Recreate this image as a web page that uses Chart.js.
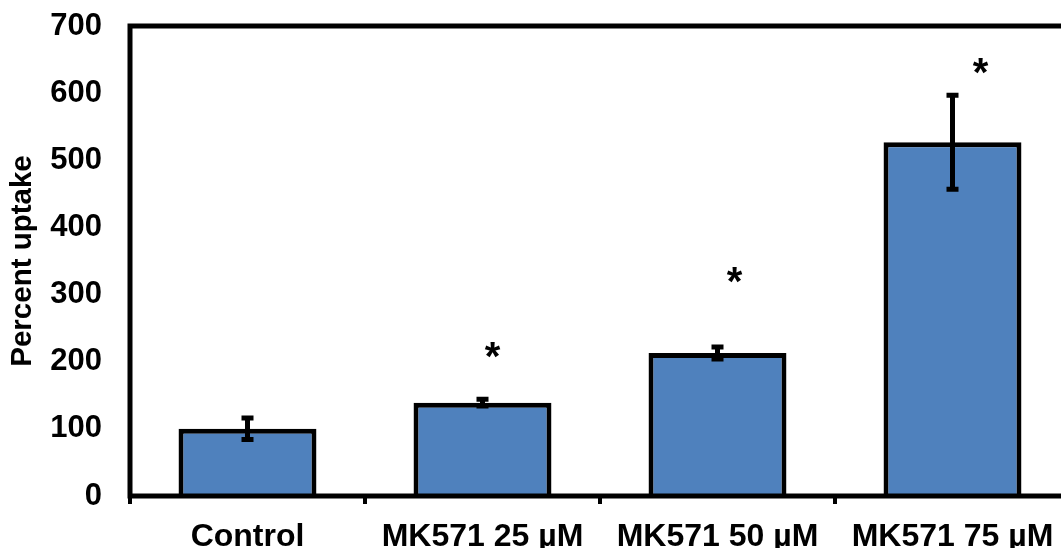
<!DOCTYPE html>
<html>
<head>
<meta charset="utf-8">
<script src="https://cdn.jsdelivr.net/npm/chart.js@4.4.1/dist/chart.umd.min.js"></script>
<style>
  html, body { margin: 0; padding: 0; background: #fff; overflow: hidden; }
  #wrap { width: 1061px; height: 548px; overflow: hidden; }
  #chart { display: block; }
</style>
</head>
<body>
<div id="wrap"><canvas id="chart" width="1075" height="548"></canvas></div>
<script>
const categories = ["Control", "MK571 25 \u00b5M", "MK571 50 \u00b5M", "MK571 75 \u00b5M"];
const uptake = [100, 139, 213, 527];
const uptakeError = [16, 5, 9, 70];
// asterisk height (data units) and sideways nudge (fraction of a category)
const starLevel = [null, 222, 334, 645];
const starNudge = [0, 0.043, 0.072, 0.119];
const yTicks = [0, 100, 200, 300, 400, 500, 600, 700];

const FONT = "'Liberation Sans', Arial, sans-serif";

// error bars + asterisks
const extras = {
  id: "extras",
  afterDatasetsDraw(chart) {
    const { ctx, scales: { x, y } } = chart;
    ctx.save();
    ctx.strokeStyle = "#000";
    ctx.lineWidth = 5;
    ctx.lineCap = "butt";
    uptake.forEach((v, i) => {
      const cx = x.getPixelForValue(i);
      const top = y.getPixelForValue(v + uptakeError[i]);
      const bot = y.getPixelForValue(v - uptakeError[i]);
      ctx.beginPath();
      ctx.moveTo(cx, top);
      ctx.lineTo(cx, bot);
      ctx.moveTo(cx - 6, top);
      ctx.lineTo(cx + 6, top);
      ctx.moveTo(cx - 6, bot);
      ctx.lineTo(cx + 6, bot);
      ctx.stroke();
    });
    ctx.fillStyle = "#000";
    ctx.font = "bold 40px " + FONT;
    ctx.textAlign = "center";
    ctx.textBaseline = "alphabetic";
    starLevel.forEach((s, i) => {
      if (s === null) return;
      const px = x.getPixelForValue(i + starNudge[i]);
      const py = y.getPixelForValue(s) + 0.58 * 40;
      ctx.fillText("*", px, py);
    });
    ctx.restore();
  },
  afterDraw(chart) {
    const { ctx, chartArea: a } = chart;
    ctx.save();
    ctx.strokeStyle = "#000";
    ctx.lineWidth = 5;
    ctx.strokeRect(a.left, a.top, a.right - a.left, a.bottom - a.top);
    ctx.restore();
  }
};

new Chart(document.getElementById("chart"), {
  type: "bar",
  data: {
    labels: categories,
    datasets: [{
      data: uptake,
      backgroundColor: "#4F81BD",
      borderColor: "#000",
      borderWidth: 5,
      barPercentage: 0.587,
      categoryPercentage: 1.0
    }]
  },
  options: {
    responsive: false,
    animation: false,
    layout: { padding: { left: 0, right: 5, top: 26, bottom: 0 } },
    plugins: { legend: { display: false }, tooltip: { enabled: false } },
    scales: {
      x: {
        offset: true,
        grid: {
          display: true,
          offset: true,
          drawOnChartArea: false,
          drawTicks: true,
          tickLength: 8,
          color: "#000",
          lineWidth: 4
        },
        border: { display: false },
        ticks: {
          color: "#000",
          padding: 14,
          maxRotation: 0,
          autoSkip: false,
          font: { family: FONT, size: 32, weight: "bold" }
        },
        afterFit(scale) { scale.height = 52; }
      },
      y: {
        min: 0,
        max: 700,
        afterBuildTicks(scale) { scale.ticks = yTicks.map(v => ({ value: v })); },
        // invisible tick marks keep the labels away from the axis
        grid: {
          display: true,
          drawOnChartArea: false,
          drawTicks: true,
          tickLength: 25,
          color: "rgba(0,0,0,0)"
        },
        border: { display: false },
        ticks: {
          color: "#000",
          padding: 3,
          font: { family: FONT, size: 31, weight: "bold" }
        },
        title: {
          display: true,
          text: "Percent uptake",
          color: "#000",
          padding: { top: 5, bottom: 0 },
          font: { family: FONT, size: 29.5, weight: "bold" }
        },
        afterFit(scale) { scale.width = 130; }
      }
    }
  },
  plugins: [extras]
});
</script>
</body>
</html>
